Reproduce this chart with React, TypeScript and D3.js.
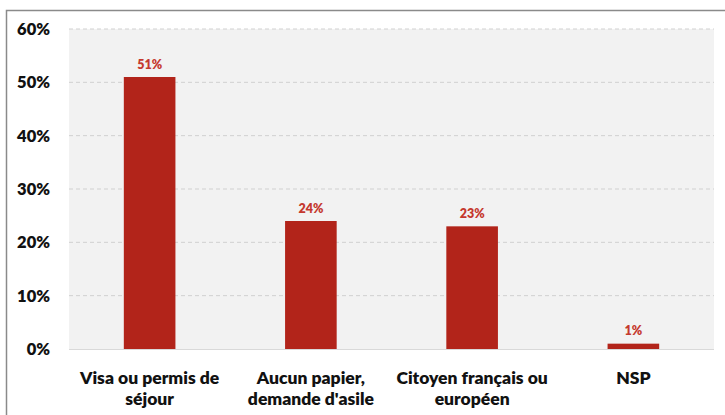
import React from "react";
import * as d3 from "d3";

const categories = [
  ["Visa ou permis de", "séjour"],
  ["Aucun papier,", "demande d'asile"],
  ["Citoyen français ou", "européen"],
  ["NSP"],
];
const values = [51, 24, 23, 1];
const yTicks = [0, 10, 20, 30, 40, 50, 60];

const W = 725;
const H = 415;
const FONT = "Lato, 'Open Sans', sans-serif";

export default function App() {
  const left = 69, right = 714, top = 29, bottom = 349;
  const x = d3.scaleBand<number>().domain(d3.range(values.length)).range([left, right]).paddingInner(0.68).paddingOuter(0.34);
  const y = d3.scaleLinear().domain([0, 60]).range([bottom, top]);
  return (
    <svg width={W} height={H} style={{ position: "absolute", left: 0, top: 0 }}>
      <rect x={0} y={0} width={W} height={H} fill="#fff" />
      <rect x={6.5} y={10.5} width={W + 10} height={H + 10} fill="none" stroke="#8a8a8a" strokeWidth={1.5} />
      <rect x={left} y={top} width={right - left} height={bottom - top} fill="#f2f2f2" />
      {yTicks.map((t) => (
        <g key={t}>
          {t > 0 && (
            <line x1={left} x2={right} y1={y(t)} y2={y(t)} stroke="#d0d0d0" strokeDasharray="4,3" strokeWidth={1} />
          )}
          <text x={50} y={y(t)} dy="0.36em" textAnchor="end" fontFamily={FONT} fontWeight={800} fontSize={16.5} fill="#111">
            {t}%
          </text>
        </g>
      ))}
      <line x1={left} x2={right} y1={bottom + 0.5} y2={bottom + 0.5} stroke="#d9d9d9" strokeWidth={1} />
      {values.map((v, i) => (
        <g key={i}>
          <rect x={x(i)} y={y(v)} width={x.bandwidth()} height={bottom - y(v)} fill="#b2241a" />
          <text x={x(i)! + x.bandwidth() / 2} y={y(v) - 8.5} textAnchor="middle" fontFamily={FONT} fontWeight={800} fontSize={12.5} fill="#c5392e">
            {v}%
          </text>
          {categories[i].map((line, j) => (
            <text key={j} x={x(i)! + x.bandwidth() / 2} y={383.5 + j * 21.5} textAnchor="middle" fontFamily={FONT} fontWeight={800} fontSize={17.5} fill="#111">
              {line}
            </text>
          ))}
        </g>
      ))}
    </svg>
  );
}
